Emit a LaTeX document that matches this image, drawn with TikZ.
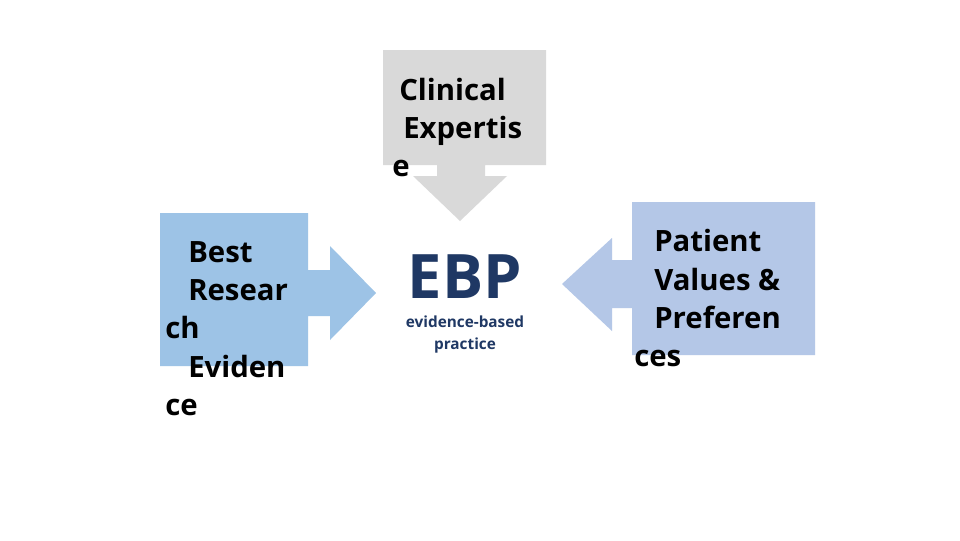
\documentclass[tikz,border=0pt]{standalone}
\usepackage{fontspec}
\setmainfont{Open Sans}
\begin{document}
\begin{tikzpicture}[x=0.75pt,y=-0.75pt,
  lbl/.style={anchor=base west,inner sep=0,font=\fontsize{22}{26}\selectfont\bfseries},
  sub/.style={anchor=base,inner sep=0,font=\fontsize{11.5}{13}\selectfont\bfseries,text=ebp}]
\definecolor{gr}{HTML}{D9D9D9}
\definecolor{lb}{HTML}{9DC3E6}
\definecolor{rb}{HTML}{B4C7E7}
\definecolor{ebp}{HTML}{1F3864}
\useasboundingbox (0,0) rectangle (960,540);
\fill[white] (0,0) rectangle (960,540);
% top gray arrow callout
\fill[gr] (383,50) -- (546,50) -- (546,165) -- (485,165) -- (485,176) -- (507,176) -- (460,221) -- (413,176) -- (437,176) -- (437,165) -- (383,165) -- cycle;
% left blue arrow callout
\fill[lb] (160,213) -- (308,213) -- (308,270) -- (330,270) -- (330,246) -- (376,293) -- (330,340) -- (330,316) -- (308,316) -- (308,366) -- (160,366) -- cycle;
% right blue arrow callout
\fill[rb] (815,202) -- (632,202) -- (632,260) -- (612,260) -- (612,238) -- (562,284) -- (612,331) -- (612,308) -- (632,308) -- (632,355) -- (815,355) -- cycle;
\node[lbl] (c1) at (399,100) {Clinical};
\node[lbl] (c2) at (403,138) {Expertis};
\node[lbl] (c3) at (392,176) {e};
\node[lbl] (b1) at (188,262) {Best};
\node[lbl] (b2) at (188,300) {Resear};
\node[lbl] (b3) at (165,338) {ch};
\node[lbl] (b4) at (188,377) {Eviden};
\node[lbl] (b5) at (165,415) {ce};
\node[lbl] (p1) at (654,251) {Patient};
\node[lbl] (p2) at (654,290) {Values \&};
\node[lbl] (p3) at (654,328) {Preferen};
\node[lbl] (p4) at (634,366) {ces};
\node[anchor=base,inner sep=0,font=\fontsize{46}{50}\selectfont\bfseries,text=ebp] (e) at (465,298) {EBP};
\node[sub] (s1) at (465,327) {evidence-based};
\node[sub] (s2) at (465,349) {practice};
\end{tikzpicture}
\end{document}
